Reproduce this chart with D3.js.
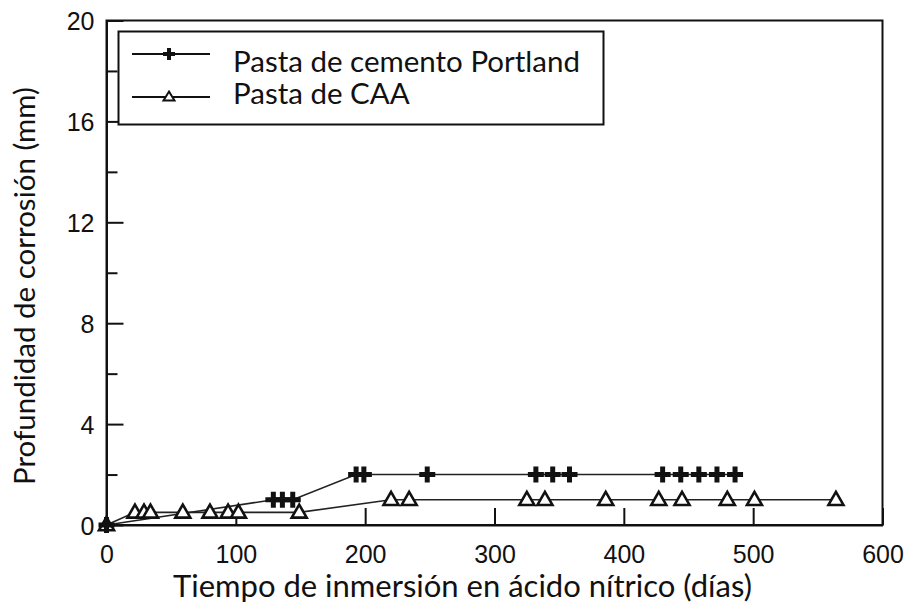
<!DOCTYPE html>
<html>
<head>
<meta charset="utf-8">
<script src="https://cdn.jsdelivr.net/npm/d3@7"></script>
<style>
  html, body { margin: 0; padding: 0; background: #fff; }
  svg { display: block; }
</style>
</head>
<body>
<svg id="chart" width="914" height="610"></svg>
<script>
// Corrosion depth vs. immersion time in nitric acid
const portlandDays  = [0, 129, 136, 144, 193, 199, 248, 332, 345, 358, 430, 444, 458, 472, 486];
const portlandDepth = [0, 1, 1, 1, 2, 2, 2, 2, 2, 2, 2, 2, 2, 2, 2];
const caaDays  = [0, 22, 29, 34, 59, 80, 94, 102, 149, 220, 234, 325, 339, 386, 427, 445, 480, 501, 564];
const caaDepth = [0, 0.5, 0.5, 0.5, 0.5, 0.5, 0.5, 0.5, 0.5, 1, 1, 1, 1, 1, 1, 1, 1, 1, 1];
const xTicks = [0, 100, 200, 300, 400, 500, 600];
const yTicks = [0, 4, 8, 12, 16, 20];
const yMinorTicks = [2, 6, 10, 14, 18];
const seriesNames = ["Pasta de cemento Portland", "Pasta de CAA"];
const xTitle = "Tiempo de inmersión en ácido nítrico (días)";
const yTitle = "Profundidad de corrosión (mm)";

const svg = d3.select("#chart");
const plotLeft = 106.5, plotRight = 882.5, plotTop = 20.5, plotBottom = 525;

const x = d3.scaleLinear().domain([0, 600]).range([plotLeft, plotRight]);
const y = d3.scaleLinear().domain([0, 20]).range([plotBottom, plotTop]);

const ink = "#111";
const tickFont = "'Liberation Sans', Arial, Helvetica, sans-serif";
const textFont = "Lato, 'Open Sans', sans-serif";

// plot frame
svg.append("rect")
  .attr("x", plotLeft).attr("y", plotTop)
  .attr("width", plotRight - plotLeft).attr("height", plotBottom - plotTop)
  .attr("fill", "none").attr("stroke", ink).attr("stroke-width", 2);

// x axis, ticks pointing inward
const gx = svg.append("g").attr("transform", `translate(0,${plotBottom})`)
  .call(d3.axisBottom(x).tickValues(xTicks).tickSize(-17).tickSizeOuter(0).tickPadding(20));
// y axis, major ticks with labels
const gy = svg.append("g").attr("transform", `translate(${plotLeft},0)`)
  .call(d3.axisLeft(y).tickValues(yTicks).tickSize(-17).tickSizeOuter(0).tickPadding(12));
// y axis, minor ticks
const gym = svg.append("g").attr("transform", `translate(${plotLeft},0)`)
  .call(d3.axisLeft(y).tickValues(yMinorTicks).tickSize(-11).tickSizeOuter(0).tickFormat(""));

[gx, gy, gym].forEach(g => {
  g.select(".domain").attr("stroke", ink).attr("stroke-width", 2);
  g.selectAll(".tick line").attr("stroke", ink).attr("stroke-width", 2);
  g.selectAll(".tick text")
    .attr("font-family", tickFont).attr("font-size", 25).attr("fill", ink);
});
gy.selectAll(".tick text").attr("dy", "0.36em");

// axis titles
svg.append("text")
  .attr("x", 462.5).attr("y", 597)
  .attr("text-anchor", "middle")
  .attr("font-family", textFont).attr("font-size", 31).attr("fill", ink)
  .text(xTitle);
svg.append("text")
  .attr("transform", `translate(35,286) rotate(-90)`)
  .attr("text-anchor", "middle")
  .attr("font-family", textFont).attr("font-size", 29.5).attr("fill", ink)
  .text(yTitle);

// series
const portland = portlandDays.map((d, i) => [d, portlandDepth[i]]);
const caa = caaDays.map((d, i) => [d, caaDepth[i]]);
const line = d3.line().x(d => x(d[0])).y(d => y(d[1]));

const crossPath = s => `M${-s},0H${s}M0,${-s}V${s}`;
const triPath = (w, h) => `M0,${-h * 0.6}L${w / 2},${h * 0.4}L${-w / 2},${h * 0.4}Z`;

svg.append("path").datum(caa)
  .attr("d", line).attr("fill", "none").attr("stroke", "#222").attr("stroke-width", 1.6);
svg.append("path").datum(portland)
  .attr("d", line).attr("fill", "none").attr("stroke", "#222").attr("stroke-width", 1.6);

svg.append("g").selectAll("path").data(caa).join("path")
  .attr("transform", d => `translate(${x(d[0])},${y(d[1])})`)
  .attr("d", triPath(15, 13))
  .attr("fill", "#fff").attr("stroke", ink).attr("stroke-width", 2.6);

svg.append("g").selectAll("path").data(portland).join("path")
  .attr("transform", d => `translate(${x(d[0])},${y(d[1])})`)
  .attr("d", crossPath(8))
  .attr("fill", "none").attr("stroke", ink).attr("stroke-width", 5);

// legend
const lg = svg.append("g");
lg.append("rect")
  .attr("x", 118.5).attr("y", 31.5).attr("width", 485).attr("height", 93)
  .attr("fill", "#fff").attr("stroke", ink).attr("stroke-width", 2);
const legendRows = [
  { name: seriesNames[0], ly: 54, ty: 72, mark: "cross" },
  { name: seriesNames[1], ly: 97, ty: 104, mark: "tri" }
];
legendRows.forEach(r => {
  lg.append("line").attr("x1", 132).attr("x2", 210).attr("y1", r.ly).attr("y2", r.ly)
    .attr("stroke", ink).attr("stroke-width", 2);
  if (r.mark === "cross") {
    lg.append("path").attr("transform", `translate(169,${r.ly})`)
      .attr("d", crossPath(6)).attr("stroke", ink).attr("stroke-width", 4).attr("fill", "none");
  } else {
    lg.append("path").attr("transform", `translate(169,${r.ly})`)
      .attr("d", triPath(11, 9)).attr("stroke", ink).attr("stroke-width", 2).attr("fill", "#fff");
  }
  lg.append("text").attr("x", 233).attr("y", r.ty)
    .attr("font-family", textFont).attr("font-size", 29.5).attr("fill", ink)
    .text(r.name);
});
</script>
</body>
</html>
